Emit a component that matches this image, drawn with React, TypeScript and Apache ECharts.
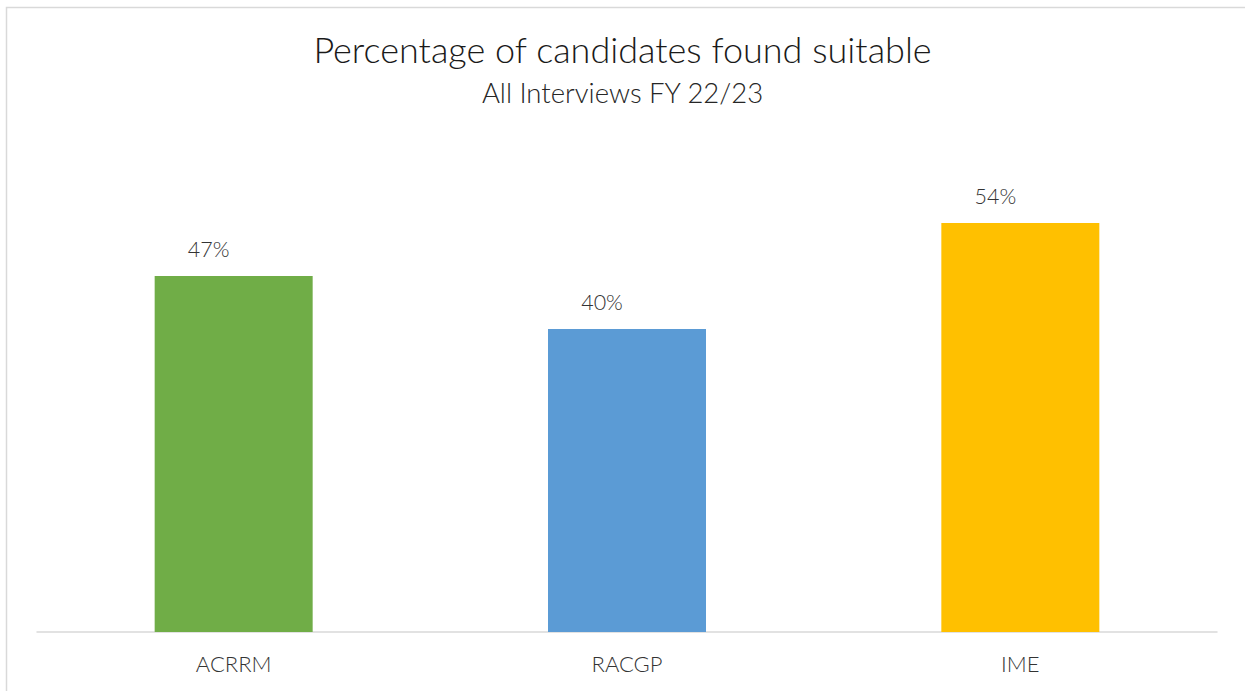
import React, { useEffect, useRef } from "react";
import * as echarts from "echarts";

const categories = ["ACRRM", "RACGP", "IME"];
const values = [47, 40, 54];
const barColors = ["#70AD47", "#5B9BD5", "#FFC000"];
const titleText = "Percentage of candidates found suitable";
const subtitleText = "All Interviews FY 22/23";

const FONT = "Lato, 'Open Sans', sans-serif";

export default function App() {
  const ref = useRef<HTMLDivElement>(null);
  useEffect(() => {
    if (!ref.current) return;
    const chart = echarts.init(ref.current, undefined, { renderer: "svg" });
    chart.setOption({
      animation: false,
      backgroundColor: "#ffffff",
      title: [
        {
          text: titleText,
          left: "center",
          top: 26,
          textStyle: { fontFamily: FONT, fontSize: 36, fontWeight: 300, color: "#1a1a1a" },
        },
        {
          text: subtitleText,
          left: "center",
          top: 73,
          textStyle: { fontFamily: FONT, fontSize: 27.5, fontWeight: 300, color: "#262626" },
        },
      ],
      graphic: [
        {
          type: "rect",
          shape: { x: 6.5, y: 7.5, width: 1300, height: 720 },
          style: { fill: "none", stroke: "#d9d9d9", lineWidth: 1.5 },
          silent: true,
        },
      ],
      grid: { left: 37, right: 28, top: 177.6, bottom: 59, containLabel: false },
      xAxis: {
        type: "category",
        data: categories,
        axisLine: { show: true, lineStyle: { color: "#d9d9d9", width: 1.5 } },
        axisTick: { show: false },
        axisLabel: { fontFamily: FONT, fontSize: 22, fontWeight: 300, color: "#333333", margin: 20 },
      },
      yAxis: {
        type: "value",
        min: 0,
        max: 60,
        show: false,
        splitLine: { show: false },
      },
      series: [
        {
          type: "bar",
          barWidth: 158,
          data: values.map((v, i) => ({ value: v, itemStyle: { color: barColors[i] } })),
          label: {
            show: true,
            position: "top",
            distance: 16,
            offset: [-25, 0],
            formatter: (p: any) => p.value + "%",
            fontFamily: FONT,
            fontSize: 21.5,
            fontWeight: 300,
            color: "#333333",
          },
        },
      ],
    });
    return () => chart.dispose();
  }, []);
  return <div ref={ref} style={{ position: "fixed", left: 0, top: 0, width: 1245, height: 691 }} />;
}
